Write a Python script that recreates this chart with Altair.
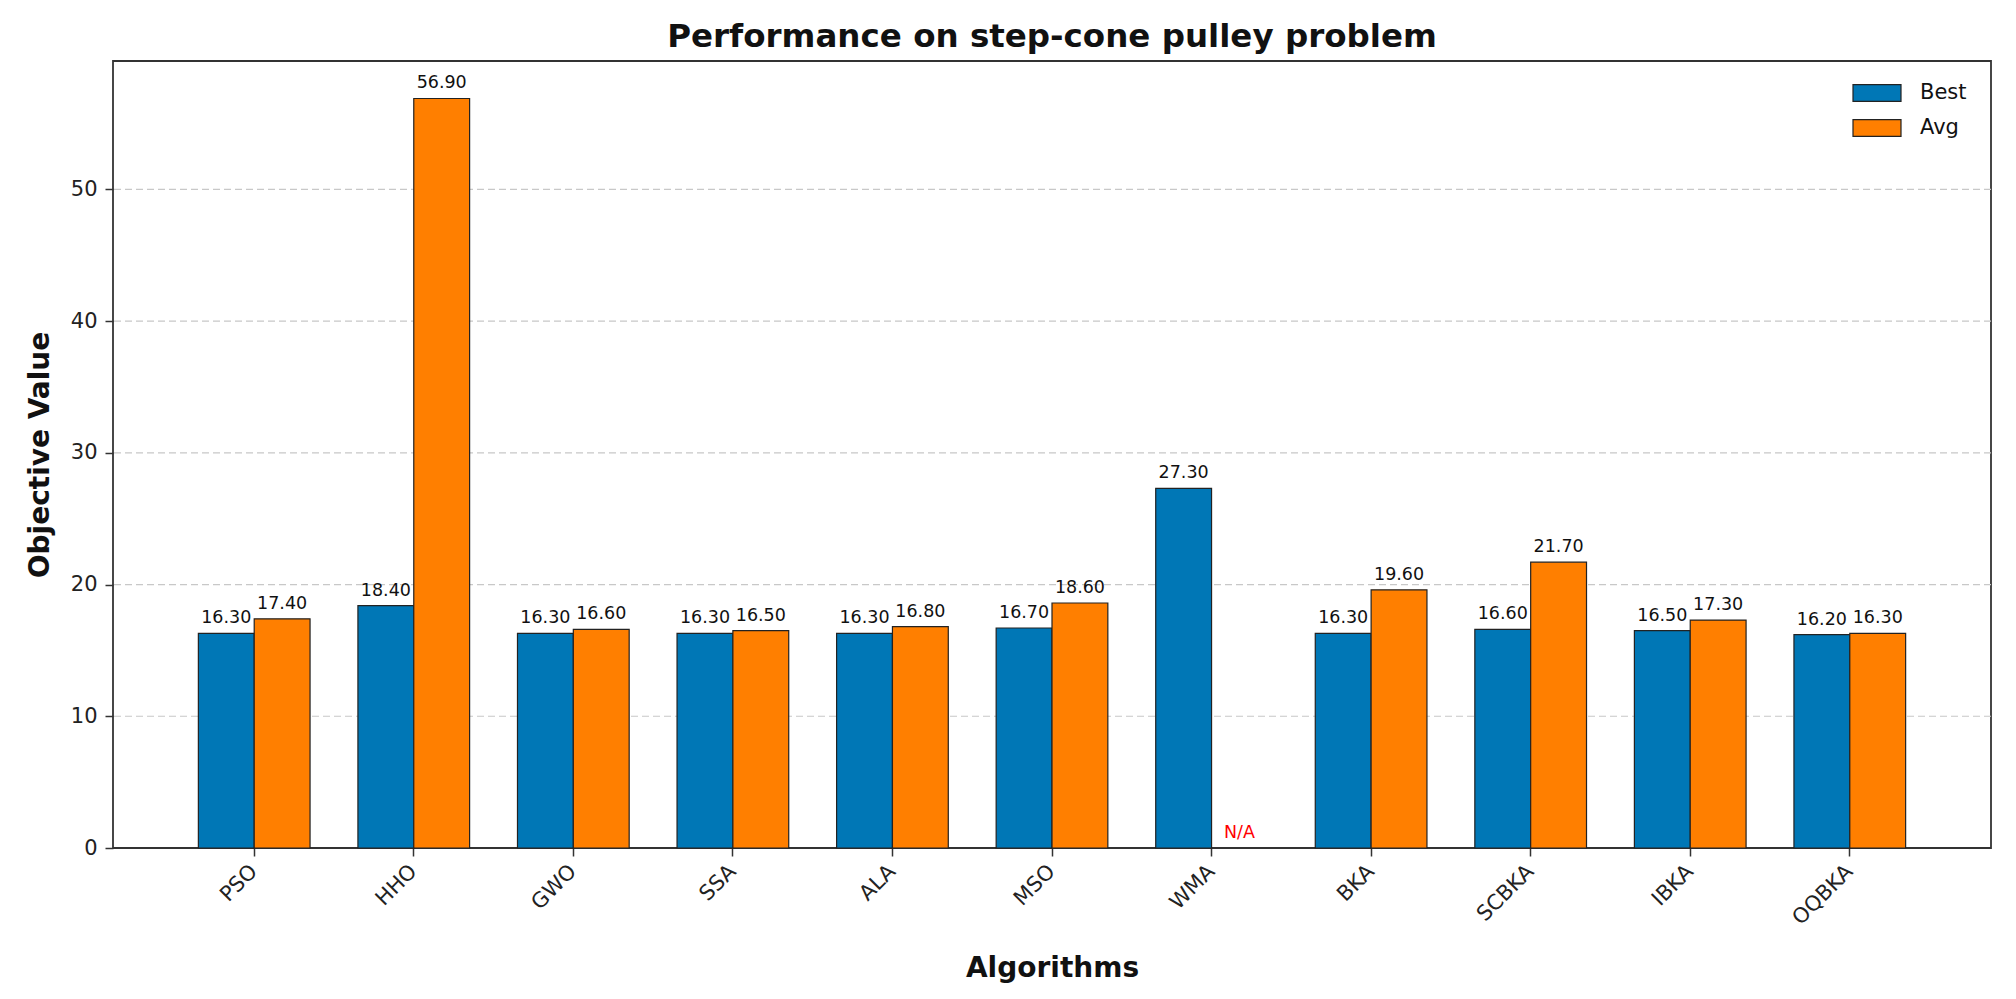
import altair as alt
import pandas as pd

algorithms = ["PSO", "HHO", "GWO", "SSA", "ALA", "MSO", "WMA", "BKA", "SCBKA", "IBKA", "OQBKA"]
best = [16.30, 18.40, 16.30, 16.30, 16.30, 16.70, 27.30, 16.30, 16.60, 16.50, 16.20]
avg = [17.40, 56.90, 16.60, 16.50, 16.80, 18.60, None, 19.60, 21.70, 17.30, 16.30]
metrics = ["Best", "Avg"]
colors = ["#0077b6", "#ff7f00"]
y_ticks = [0, 10, 20, 30, 40, 50]
grid_values = [10, 20, 30, 40, 50]
y_max = 59.745

rows = []
for a, b, v in zip(algorithms, best, avg):
    rows.append({"Algorithm": a, "Metric": "Best", "Value": b})
    rows.append({"Algorithm": a, "Metric": "Avg", "Value": v})
df = pd.DataFrame(rows)

na_df = pd.DataFrame([{"Algorithm": a, "Metric": "Avg", "Value": 0, "txt": "N/A"}
                      for a, v in zip(algorithms, avg) if v is None])
grid_df = pd.DataFrame({"g": grid_values})

FONT = "DejaVu Sans"

x_enc = alt.X("Algorithm:N", sort=algorithms,
              scale=alt.Scale(paddingInner=0.3, paddingOuter=0.535),
              axis=alt.Axis(title="Algorithms", labelAngle=-45, labelAlign="right",
                            labelBaseline="middle", labelFontSize=21, labelFont=FONT,
                            labelColor="#222222", labelPadding=12, tickSize=8,
                            tickWidth=1.5, tickColor="#333333", domain=False,
                            bandPosition=0.5, grid=False,
                            titleFontSize=28, titleFont=FONT, titleFontWeight="bold",
                            titleColor="#111111", titleY=120, titleBaseline="middle"))
xoff_enc = alt.XOffset("Metric:N", sort=metrics,
                       scale=alt.Scale(domain=metrics, paddingInner=0, paddingOuter=0))
y_scale = alt.Scale(domain=[0, y_max], nice=False, zero=True)
y_enc = alt.Y("Value:Q", scale=y_scale,
              axis=alt.Axis(title="Objective Value", values=y_ticks, labelFontSize=21,
                            labelFont=FONT, labelColor="#222222", labelPadding=8,
                            tickSize=8, tickWidth=1.5, tickColor="#333333", domain=False,
                            grid=False,
                            titleFontSize=28, titleFont=FONT, titleFontWeight="bold",
                            titleColor="#111111", titleX=-73, titleBaseline="middle"))

color_enc = alt.Color("Metric:N", sort=metrics,
                      scale=alt.Scale(domain=metrics, range=colors),
                      legend=alt.Legend(title=None, orient="none", legendX=1751, legendY=19,
                                        padding=0, symbolType="M-2,-0.7H2V0.7H-2Z",
                                        symbolSize=576, symbolStrokeColor="#222222",
                                        symbolStrokeWidth=1.2, labelFontSize=21,
                                        labelFont=FONT, labelColor="#111111",
                                        labelOffset=30, rowPadding=11))

grid = alt.Chart(grid_df).mark_rule(color="#c8c8c8", strokeWidth=1.2, strokeDash=[7, 4]).encode(
    y=alt.Y("g:Q", scale=y_scale))

base = alt.Chart(df).transform_filter("datum.Value != null")

bars = base.mark_bar(stroke="#222222", strokeWidth=1.2).encode(
    x=x_enc, xOffset=xoff_enc, y=y_enc, color=color_enc)

labels = base.transform_calculate(label="format(datum.Value, '.2f')").mark_text(
    dy=-10, baseline="alphabetic", align="center", fontSize=17.5, font=FONT, color="#111111"
).encode(x=alt.X("Algorithm:N", sort=algorithms), xOffset=xoff_enc, y="Value:Q", text="label:N")

na_text = alt.Chart(na_df).mark_text(
    dy=-10, baseline="alphabetic", align="center", fontSize=17.5, font=FONT, color="#ff0000"
).encode(x=alt.X("Algorithm:N", sort=algorithms), xOffset=xoff_enc, y="Value:Q", text="txt:N")

chart = alt.layer(grid, bars, labels, na_text).properties(
    width=1878, height=787,
    title=alt.TitleParams("Performance on step-cone pulley problem", fontSize=32.5,
                          font=FONT, fontWeight="bold", color="#111111", offset=8),
    padding={"left": 105, "top": 53, "right": 17, "bottom": 143},
    autosize=alt.AutoSizeParams(type="none"),
    background="white",
).configure_view(stroke="#333333", strokeWidth=1.8)

chart.save("out.html", embed_options={"renderer": "svg", "actions": False})
